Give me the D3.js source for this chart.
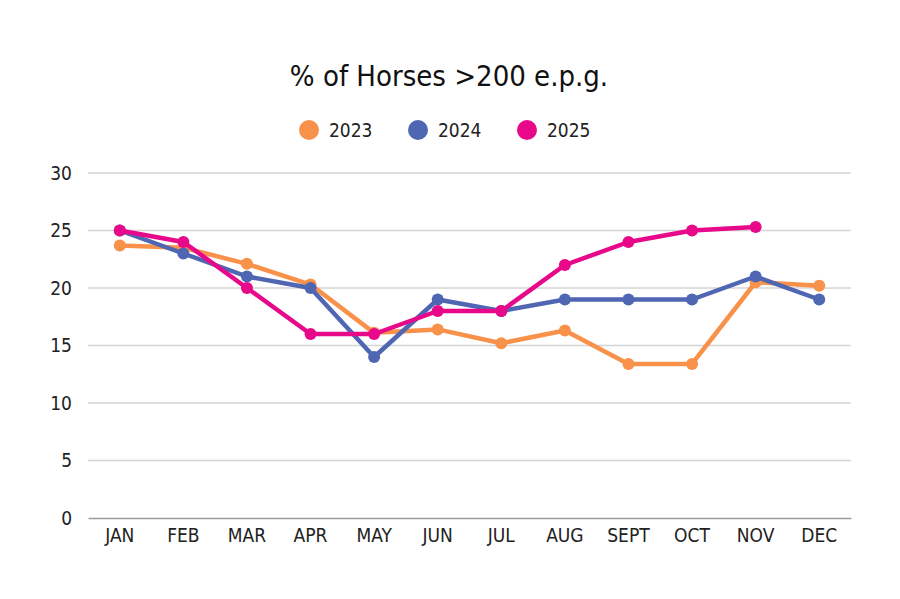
<!DOCTYPE html>
<html>
<head>
<meta charset="utf-8">
<script src="https://cdn.jsdelivr.net/npm/d3@7"></script>
<style>
  body { margin: 0; background: #fff; }
  svg, svg text { font-family: "DejaVu Sans Condensed", "DejaVu Sans", sans-serif; }
</style>
</head>
<body>
<div id="chart"></div>
<script>
// chart data
var months = ["JAN", "FEB", "MAR", "APR", "MAY", "JUN", "JUL", "AUG", "SEPT", "OCT", "NOV", "DEC"];
var years = ["2023", "2024", "2025"];
var values2023 = [23.7, 23.5, 22.1, 20.3, 16.1, 16.4, 15.2, 16.3, 13.4, 13.4, 20.5, 20.2];
var values2024 = [25, 23, 21, 20, 14, 19, 18, 19, 19, 19, 21, 19];
var values2025 = [25, 24, 20, 16, 16, 18, 18, 22, 24, 25, 25.3];
var yTicks = [0, 5, 10, 15, 20, 25, 30];

var colors = ["#F8914A", "#4F66B3", "#E8088A"];
var series = [values2023, values2024, values2025];

// svg area
var svgWidth = 900;
var svgHeight = 599;
var margin = { top: 173, right: 49, bottom: 81, left: 88 };
var chartWidth = svgWidth - margin.left - margin.right;
var chartHeight = svgHeight - margin.top - margin.bottom;

var svg = d3.select("#chart").append("svg")
    .attr("width", svgWidth)
    .attr("height", svgHeight);

var chartGroup = svg.append("g")
    .attr("transform", `translate(${margin.left}, ${margin.top})`);

// scales
var xScale = d3.scaleBand()
    .domain(months)
    .range([0, chartWidth]);

var yScale = d3.scaleLinear()
    .domain([0, 30])
    .range([chartHeight, 0]);

// gridlines
chartGroup.append("g")
    .selectAll("line")
    .data(yTicks.slice(1))
    .enter()
    .append("line")
    .attr("x1", 0)
    .attr("x2", chartWidth)
    .attr("y1", d => yScale(d))
    .attr("y2", d => yScale(d))
    .attr("stroke", "#d4d4d4")
    .attr("stroke-width", 1.3);

// y axis (labels only)
var yAxis = d3.axisLeft(yScale).tickValues(yTicks).tickSize(0).tickPadding(16);
var yAxisGroup = chartGroup.append("g").call(yAxis)
    .attr("font-family", null);
yAxisGroup.select(".domain").remove();
yAxisGroup.selectAll("text")
    .attr("font-size", 19)
    .attr("fill", "#222");

// x axis
var xAxis = d3.axisBottom(xScale).tickSize(0).tickPadding(11);
var xAxisGroup = chartGroup.append("g")
    .attr("transform", `translate(0, ${chartHeight})`)
    .call(xAxis)
    .attr("font-family", null);
xAxisGroup.select(".domain")
    .attr("stroke", "#9a9a9a")
    .attr("stroke-width", 1.5);
xAxisGroup.selectAll("text")
    .attr("font-size", 19)
    .attr("fill", "#222");

// lines and markers
var line = d3.line()
    .x((d, i) => xScale(months[i]) + xScale.bandwidth() / 2)
    .y(d => yScale(d));

series.forEach(function (values, k) {
    chartGroup.append("path")
        .datum(values)
        .attr("fill", "none")
        .attr("stroke", colors[k])
        .attr("stroke-width", 4.5)
        .attr("stroke-linejoin", "round")
        .attr("d", line);

    chartGroup.append("g")
        .selectAll("circle")
        .data(values)
        .enter()
        .append("circle")
        .attr("cx", (d, i) => xScale(months[i]) + xScale.bandwidth() / 2)
        .attr("cy", d => yScale(d))
        .attr("r", 6)
        .attr("fill", colors[k]);
});

// title
svg.append("text")
    .attr("x", 449)
    .attr("y", 86)
    .attr("text-anchor", "middle")
    .attr("font-size", 29)
    .attr("fill", "#111")
    .text("% of Horses >200 e.p.g.");

// legend
var legend = svg.append("g")
    .selectAll("g")
    .data(years)
    .enter()
    .append("g")
    .attr("transform", (d, i) => `translate(${309 + i * 109}, 130)`);

legend.append("circle")
    .attr("r", 10)
    .attr("fill", (d, i) => colors[i]);

legend.append("text")
    .attr("x", 20)
    .attr("y", 7)
    .attr("font-size", 19)
    .attr("fill", "#222")
    .text(d => d);
</script>
</body>
</html>
